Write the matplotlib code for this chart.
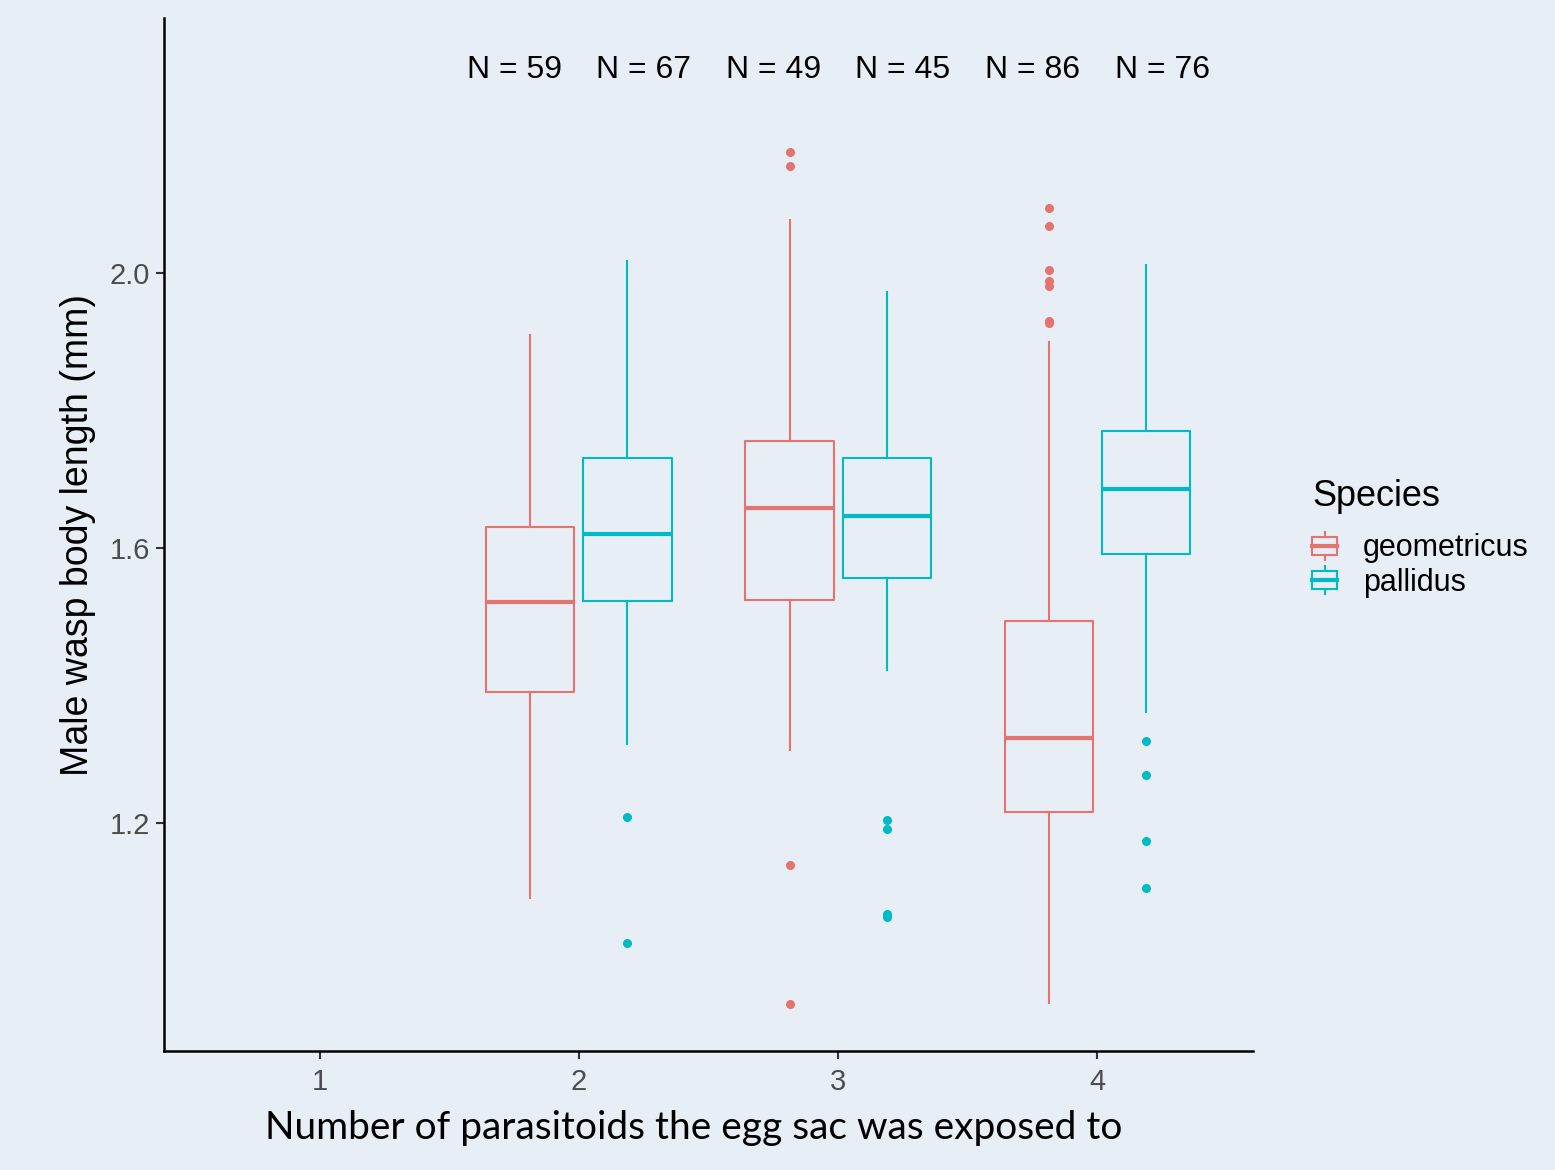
import matplotlib
matplotlib.use("Agg")
import matplotlib.pyplot as plt
from matplotlib.patches import Rectangle, Patch
from matplotlib.lines import Line2D
from matplotlib.legend_handler import HandlerBase

# ---------------- data ----------------
groups = [2, 3, 4]
species = ["geometricus", "pallidus"]
colors = ["#E5746F", "#00BAC6"]

geo_whislo = [1.091, 1.306, 0.938]
geo_q1 = [1.390, 1.524, 1.216]
geo_med = [1.521, 1.658, 1.324]
geo_q3 = [1.630, 1.756, 1.494]
geo_whishi = [1.910, 2.077, 1.900]
geo_fliers = [[], [2.176, 2.156, 1.139, 0.937],
              [2.095, 2.068, 2.005, 1.988, 1.981, 1.930, 1.927]]

pal_whislo = [1.315, 1.4225, 1.361]
pal_q1 = [1.523, 1.556, 1.591]
pal_med = [1.620, 1.6465, 1.686]
pal_q3 = [1.731, 1.731, 1.770]
pal_whishi = [2.0175, 1.972, 2.012]
pal_fliers = [[1.208, 1.025], [1.204, 1.191, 1.068, 1.063],
              [1.319, 1.270, 1.173, 1.1055]]

n_values = [59, 67, 49, 45, 86, 76]
n_label_x = [1.75, 2.25, 2.75, 3.25, 3.75, 4.25]
n_label_y = 2.295

x_ticks = [1, 2, 3, 4]
y_ticks = [1.2, 1.6, 2.0]

# ---------------- style ----------------
bg = "#E8EEF6"
dodge = 0.1875
box_w = 0.34

fig = plt.figure(figsize=(15.55, 11.70), dpi=100, facecolor=bg)
ax = fig.add_axes([164/1555, 1 - 1051/1170, (1253-164)/1555, (1051-18)/1170])
ax.set_facecolor(bg)

def make_stats(wlo, q1, med, q3, whi, fl):
    return [dict(whislo=a, q1=b, med=c, q3=d, whishi=e, fliers=f)
            for a, b, c, d, e, f in zip(wlo, q1, med, q3, whi, fl)]

series = [
    make_stats(geo_whislo, geo_q1, geo_med, geo_q3, geo_whishi, geo_fliers),
    make_stats(pal_whislo, pal_q1, pal_med, pal_q3, pal_whishi, pal_fliers),
]
offsets = [-dodge, dodge]

for stats, col, off in zip(series, colors, offsets):
    pos = [g + off for g in groups]
    ax.bxp(stats, positions=pos, widths=box_w, showcaps=False, patch_artist=False,
           boxprops=dict(color=col, linewidth=1.5),
           whiskerprops=dict(color=col, linewidth=1.5),
           medianprops=dict(color=col, linewidth=3.0),
           flierprops=dict(marker="o", markerfacecolor=col, markeredgecolor=col,
                           markersize=5.5, linestyle="none"),
           manage_ticks=False)

for xv, n in zip(n_label_x, n_values):
    ax.text(xv, n_label_y, f"N = {n}", ha="center", va="center",
            fontsize=23, family="Liberation Sans", color="black")

ax.set_xlim(0.4, 4.6)
ax.set_ylim(0.868, 2.371)
ax.set_xticks(x_ticks)
ax.set_xticklabels([str(t) for t in x_ticks])
ax.set_yticks(y_ticks)
ax.set_yticklabels([f"{t:.1f}" for t in y_ticks])
for lab in ax.get_xticklabels() + ax.get_yticklabels():
    lab.set_family("Liberation Sans")
    lab.set_fontsize(21)
    lab.set_color("#4D4D4D")
ax.tick_params(axis="both", length=6, width=1.5, color="#333333", pad=4)
ax.tick_params(axis="x", pad=6)

for s in ["top", "right"]:
    ax.spines[s].set_visible(False)
for s in ["left", "bottom"]:
    ax.spines[s].set_linewidth(1.8)
    ax.spines[s].set_color("black")

ax.set_ylabel("Male wasp body length (mm)", fontsize=27, family="Liberation Sans",
              labelpad=10)
fig.text(694/1555, 1 - 1128/1170, "Number of parasitoids the egg sac was exposed to",
         fontsize=28, family="Lato", ha="center", va="center", color="black")


class BoxHandler(HandlerBase):
    def create_artists(self, legend, orig_handle, xdescent, ydescent, width,
                       height, fontsize, trans):
        col = orig_handle.get_edgecolor()
        cx = -xdescent + width / 2
        cy = -ydescent + height / 2
        bw = width
        bh = height * 0.66
        rect = Rectangle((cx - bw / 2, cy - bh / 2), bw, bh, fill=False,
                         edgecolor=col, linewidth=1.5, transform=trans)
        med = Line2D([cx - bw / 2, cx + bw / 2], [cy, cy], color=col,
                     linewidth=3.0, transform=trans)
        wt = Line2D([cx, cx], [cy + bh / 2, -ydescent + height * 1.0], color=col,
                    linewidth=1.5, transform=trans)
        wb = Line2D([cx, cx], [cy - bh / 2, -ydescent + height * 0.0], color=col,
                    linewidth=1.5, transform=trans)
        return [rect, med, wt, wb]


handles = [Patch(edgecolor=c, facecolor="none", label=s) for s, c in zip(species, colors)]
leg = fig.legend(handles=handles, labels=species, title="Species",
                 handler_map={Patch: BoxHandler()},
                 loc="upper left", bbox_to_anchor=(1306/1555, 1 - 473/1170),
                 frameon=False, title_fontsize=26,
                 handlelength=0.82, handleheight=1.0, handletextpad=0.85,
                 labelspacing=0.1, borderaxespad=0, borderpad=0.2,
                 prop={"family": "Liberation Sans", "size": 22})
leg.get_title().set_family("Liberation Sans")
leg._legend_box.align = "left"
leg._legend_box.sep = 13

fig.savefig("out.png", dpi=100, facecolor=bg)
